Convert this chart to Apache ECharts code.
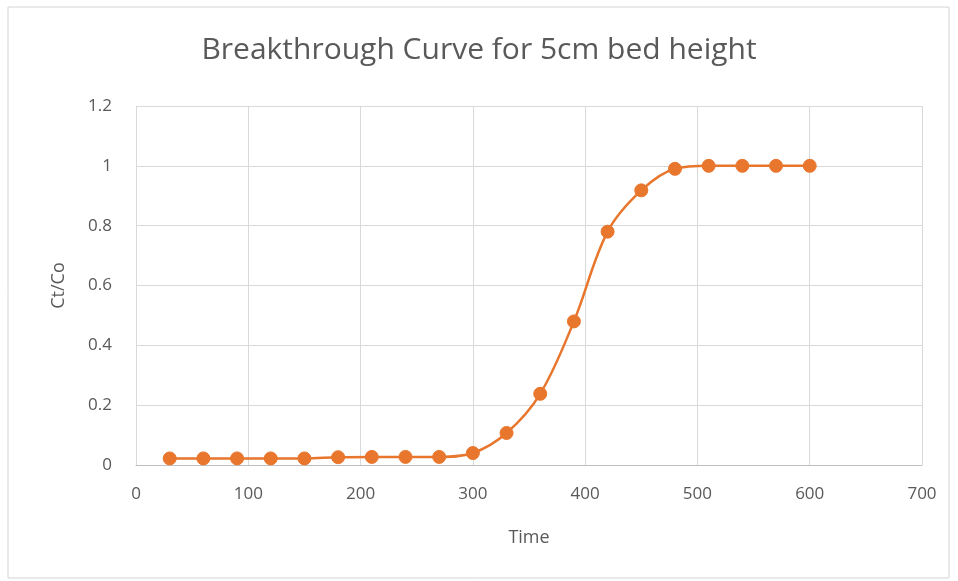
<!DOCTYPE html>
<html>
<head>
<meta charset="utf-8">
<script src="https://cdn.jsdelivr.net/npm/echarts@6/dist/echarts.min.js"></script>
<style>
  html, body { margin: 0; padding: 0; background: #ffffff; }
  #chart { width: 958px; height: 581px; }
</style>
</head>
<body>
<div id="chart"></div>
<script>
// Time (x) and normalised outlet concentration Ct/Co (y)
const timeValues = [30, 60, 90, 120, 150, 180, 210, 240, 270, 300, 330, 360, 390, 420, 450, 480, 510, 540, 570, 600];
const ctCoValues = [0.022, 0.022, 0.022, 0.022, 0.022, 0.026, 0.027, 0.027, 0.027, 0.04, 0.107, 0.238, 0.48, 0.78, 0.918, 0.99, 1.0, 1.0, 1.0, 1.0];

const points = timeValues.map((t, i) => [t, ctCoValues[i]]);

const labelColor = '#595959';
const gridColor = '#d9d9d9';
const seriesColor = '#e8762d';

const chart = echarts.init(document.getElementById('chart'), null, { renderer: 'canvas' });

chart.setOption({
  backgroundColor: '#ffffff',
  animation: false,
  graphic: [{
    type: 'rect',
    shape: { x: 8, y: 7, width: 941, height: 571 },
    style: { fill: 'none', stroke: '#d4d4d4', lineWidth: 1 },
    silent: true
  }],
  title: {
    text: 'Breakthrough Curve for 5cm bed height',
    left: 'center',
    top: 30,
    textStyle: {
      color: labelColor,
      fontFamily: 'Open Sans',
      fontWeight: 'normal',
      fontSize: 30
    }
  },
  grid: { left: 136, right: 36, top: 106, bottom: 116, containLabel: false },
  xAxis: {
    type: 'value',
    min: 0,
    max: 700,
    interval: 100,
    name: 'Time',
    nameLocation: 'middle',
    nameGap: 64,
    nameTextStyle: { color: labelColor, fontSize: 18, fontFamily: 'Open Sans' },
    axisLine: { show: true, lineStyle: { color: '#bfbfbf', width: 1 } },
    axisTick: { show: false },
    axisLabel: { color: labelColor, fontSize: 17, fontFamily: 'Open Sans', margin: 21 },
    splitLine: { show: true, lineStyle: { color: gridColor, width: 1 } }
  },
  yAxis: {
    type: 'value',
    min: 0,
    max: 1.2,
    interval: 0.2,
    name: 'Ct/Co',
    nameLocation: 'middle',
    nameGap: 68,
    nameRotate: 90,
    nameTextStyle: { color: labelColor, fontSize: 18, fontFamily: 'Open Sans' },
    axisLine: { show: false },
    axisTick: { show: false },
    axisLabel: {
      color: labelColor, fontSize: 17, fontFamily: 'Open Sans', margin: 24,
      formatter: v => String(Math.round(v * 10) / 10)
    },
    splitLine: { show: true, lineStyle: { color: gridColor, width: 1 } }
  },
  series: [{
    type: 'line',
    data: points,
    smooth: 0.35,
    symbol: 'circle',
    symbolSize: 13,
    lineStyle: { color: seriesColor, width: 2.5 },
    itemStyle: { color: seriesColor, borderColor: seriesColor }
  }]
});
</script>
</body>
</html>
